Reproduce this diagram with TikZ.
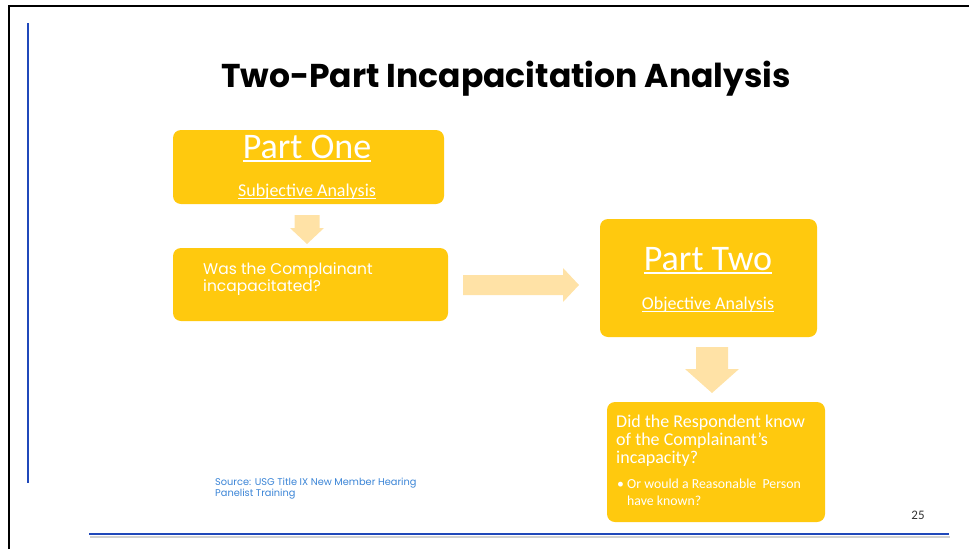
\documentclass[tikz,border=0pt]{standalone}
\usepackage{fontspec}
\usepackage{xcolor}
\usepackage{tikz}
\usetikzlibrary{positioning}
\usetikzlibrary{calc}
\setmainfont{Carlito}
\newfontfamily\gothic{Poppins}
\definecolor{boxyellow}{RGB}{255,201,14}
\definecolor{arrowtan}{RGB}{255,226,166}
\definecolor{slideblue}{RGB}{32,72,186}
\definecolor{sourceblue}{RGB}{58,132,214}
\newcommand{\undertext}[3]{\setbox0=\hbox{#3}\rlap{\rule[-#1]{\wd0}{#2}}\box0}

\begin{document}
\begin{tikzpicture}[x=1pt,y=-1pt,
    stagebox/.style={rectangle,rounded corners=8pt,fill=boxyellow,draw=none},
    flowarrow/.style={fill=arrowtan,draw=none},
    label/.style={inner sep=0pt,text=white}]
  \useasboundingbox (0,0) rectangle (969,549);
  % frame and rules
  \draw[line width=2pt] (9,549) -- (9,6) -- (969,6);
  \draw[slideblue,line width=2.4pt] (28,23) -- (28,483);
  \draw[black!18,line width=2pt] (90,537) -- (950,537);
  \draw[slideblue,line width=2.6pt] (89,534) -- (949,534);

  \node[inner sep=0pt,anchor=base,font=\gothic\bfseries\fontsize{33}{36}\selectfont] (title) at (506,87)
    {Two-Part Incapacitation Analysis};

  % boxes
  \begin{scope}
    \node[stagebox,minimum width=271pt,minimum height=74pt] (one) at (308.5,167) {};
    \node[stagebox,minimum width=275pt,minimum height=73pt] (q1) at (310.5,284.5) {};
    \node[stagebox,minimum width=217pt,minimum height=118pt] (two) at (708.5,278) {};
    \node[stagebox,minimum width=218pt,minimum height=120pt] (q2) at (716,462) {};
  \end{scope}

  % block arrows
  \fill[flowarrow] (294.5,215) -- (319.5,215) -- (319.5,228) -- (324,228) -- (307,244)
    -- (290,228) -- (294.5,228) -- cycle;
  \fill[flowarrow] (463,275) -- (563,275) -- (563,268) -- (579,285) -- (563,302)
    -- (563,295) -- (463,295) -- cycle;
  \fill[flowarrow] (696,347) -- (728,347) -- (728,369) -- (739,369) -- (712,393)
    -- (685,369) -- (696,369) -- cycle;

  % texts (multi-line nodes sit on their last baseline)
  \node[label,anchor=base,font=\fontsize{36}{40}\selectfont] (oneT) at (307,158) {\undertext{3.5pt}{1.8pt}{Part One}};
  \node[label,anchor=base,font=\fontsize{18}{20}\selectfont] (oneS) at (307,196) {\undertext{2.5pt}{1pt}{Subjective Analysis}};
  \node[label,anchor=base west,align=left,font=\gothic\fontsize{15.5}{17}\selectfont] (q1T) at (203,291)
    {Was the Complainant\\incapacitated?};
  \node[label,anchor=base,font=\fontsize{36}{40}\selectfont] (twoT) at (708,270) {\undertext{3.5pt}{1.8pt}{Part Two}};
  \node[label,anchor=base,font=\fontsize{18}{20}\selectfont] (twoS) at (708,309) {\undertext{2.5pt}{1pt}{Objective Analysis}};
  \node[label,anchor=base west,align=left,font=\fontsize{18}{18}\selectfont] (q2T) at (616,463)
    {Did the Respondent know\\of the Complainant’s\\incapacity?};
  \node[label,anchor=base west,align=left,font=\fontsize{13.8}{17}\selectfont] (q2B) at (617,505)
    {\textbullet\ Or would a Reasonable\ \ Person\\\hphantom{\textbullet\ }have known?};

  \node[inner sep=0pt,anchor=base west,align=left,text=sourceblue,font=\gothic\fontsize{9.8}{10.5}\selectfont] (src) at (215,496)
    {Source: USG Title IX New Member Hearing\\Panelist Training};
  \node[inner sep=0pt,anchor=base,text=black!80,font=\fontsize{13}{15}\selectfont] (page) at (918,519) {25};
\end{tikzpicture}
\end{document}
